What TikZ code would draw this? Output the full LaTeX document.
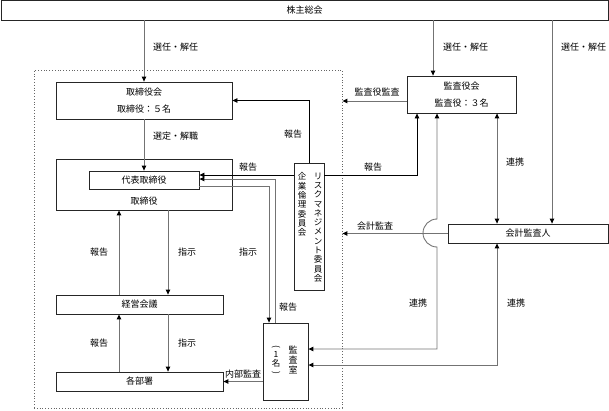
\documentclass[tikz,border=0pt]{standalone}
\usepackage{fontspec}
\setmainfont{Noto Sans CJK JP}
\usetikzlibrary{arrows.meta}

\tikzset{
  box/.style={draw=black!85, line width=0.8pt, inner sep=0pt, align=center},
  twoline/.style={box, font=\fontsize{9}{16.5}\selectfont},
  frame/.style={draw=black!60, dotted, line width=0.8pt, inner sep=0pt},
  conn/.style={draw=black!55, line width=0.9pt},
  riskline/.style={draw=black, line width=0.8pt},
  lbl/.style={inner sep=1pt},
  vcol/.style={inner sep=0pt, align=center, anchor=north, font=\fontsize{8.5}{9.3}\selectfont}
}

\begin{document}
\begin{tikzpicture}[x=1pt,y=-1pt,font=\fontsize{9}{11}\selectfont,
  >={Triangle[length=5pt,width=4.5pt,color=black]}]
\useasboundingbox (0,0) rectangle (609,410);

	% kumiai boxes
	\node[box, minimum width=607pt, minimum height=20pt] (soukai) at (304.5,10) {株主総会};
	\node[frame, minimum width=308pt, minimum height=338pt] (frame) at (188,239) {};
	\node[twoline, minimum width=176pt, minimum height=37pt] (torikai) at (144,100.5) {取締役会\\取締役：５名};
	\node[box, minimum width=176pt, minimum height=51pt] (torishimari) at (144,184.5) {};
	\node[box, minimum width=110pt, minimum height=18pt] (daihyo) at (144,180) {代表取締役};
	\node (toriname) at (144,201) {取締役};
	\node[box, minimum width=167pt, minimum height=19pt] (keiei) at (139.5,304.5) {経営会議};
	\node[box, minimum width=167pt, minimum height=19pt] (busho) at (139.5,381.5) {各部署};
	\node[box, minimum width=30pt, minimum height=127pt] (risk) at (309,226.5) {};
	\node[vcol] (riskA) at (318,172.5) {リ\\ス\\ク\\マ\\ネ\\ジ\\メ\\ン\\ト\\委\\員\\会};
	\node[vcol] (riskB) at (302,172.5) {企\\業\\倫\\理\\委\\員\\会};
	\node[box, minimum width=45pt, minimum height=77pt] (shitsu) at (285.5,361.5) {};
	\node[vcol, font=\fontsize{9}{10}\selectfont] (shitsuA) at (293,346) {監\\査\\室};
	\node[vcol, font=\fontsize{8.5}{8.6}\selectfont] (shitsuB) at (276,345)
	  {\rotatebox[origin=c]{-90}{(}\\1\\名\\\rotatebox[origin=c]{-90}{)}};
	\node[twoline, minimum width=109pt, minimum height=37pt] (kansayaku) at (461.5,94.5) {監査役会\\監査役：３名};
	\node[box, minimum width=160pt, minimum height=19pt] (kaikei) at (528,233.5) {会計監査人};

	% senin
	\draw[conn,->] (soukai.south -| torikai.north) -- (torikai.north);
	\draw[conn,->] (soukai.south -| 433,0) -- (kansayaku.north -| 433,0);
	\draw[conn,->] (soukai.south -| 552,0) -- (kaikei.north -| 552,0);
	\draw[conn,->] (torikai.south) -- (daihyo.north);
	\node[lbl] (l1) at (175.5,47) {選任・解任};
	\node[lbl] (l2) at (465.5,47) {選任・解任};
	\node[lbl] (l3) at (583.5,47) {選任・解任};
	\node[lbl] (l4) at (175.5,136) {選定・解職};

	% risk
	\draw[riskline,->] (risk.north) |- (torikai.east);
	\draw[riskline,->] (risk.west |- 0,175) -- (daihyo.east |- 0,175);
	\draw[riskline,->] (risk.east |- 0,175) -| (kansayaku.south -| 417,0);
	\node[lbl] (l5) at (293,134) {報告};
	\node[lbl] (l6) at (248,167) {報告};
	\node[lbl] (l7) at (373,167) {報告};

	% naibu
	\draw[conn,->] (shitsu.north -| 275,0) |- (daihyo.east |- 0,179);
	\draw[conn,->] (daihyo.east |- 0,186) -| (shitsu.north -| 269,0);
	\draw[conn,->] (keiei.north -| 119,0) -- (torishimari.south -| 119,0);
	\draw[conn,->] (torishimari.south -| 168,0) -- (keiei.north -| 168,0);
	\draw[conn,->] (busho.north -| 119,0) -- (keiei.south -| 119,0);
	\draw[conn,->] (keiei.south -| 168,0) -- (busho.north -| 168,0);
	\draw[conn,->] (shitsu.west |- busho.east) -- (busho.east);
	\node[lbl] (l8) at (288,307) {報告};
	\node[lbl] (l9) at (248,252) {指示};
	\node[lbl] (l10) at (99,252) {報告};
	\node[lbl] (l11) at (187,252) {指示};
	\node[lbl] (l12) at (99,343) {報告};
	\node[lbl] (l13) at (187,343) {指示};
	\node[lbl] (l14) at (243,374) {内部監査};

	% kansa
	\draw[conn,->] (kansayaku.west |- 0,101) -- (frame.east |- 0,101);
	\draw[conn,->] (kaikei.west) -- (frame.east |- kaikei.west);
	\draw[conn,<->] (kansayaku.south -| 497,0) -- (kaikei.north -| 497,0);
	\draw[conn,<->] (shitsu.east |- 0,349) -| (437,247) arc[start angle=90,end angle=270,radius=14] -- (kansayaku.south -| 437,0);
	\draw[conn,<->] (shitsu.east |- 0,365) -| (kaikei.south -| 497,0);
	\node[lbl] (l15) at (377,92) {監査役監査};
	\node[lbl] (l16) at (375,226) {会計監査};
	\node[lbl] (l17) at (515,162) {連携};
	\node[lbl] (l18) at (418,303) {連携};
	\node[lbl] (l19) at (516,303) {連携};
\end{tikzpicture}
\end{document}
